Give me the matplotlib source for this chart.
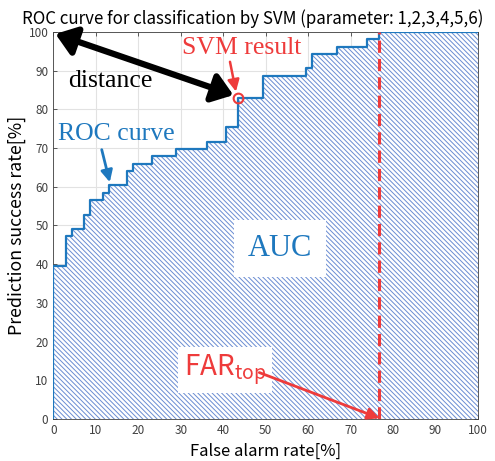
import matplotlib
matplotlib.use("Agg")
import matplotlib.pyplot as plt
from matplotlib.patches import FancyArrowPatch

# ---- data ----
far_steps = [0, 0, 2.9, 4.3, 7.2, 8.7, 11.6, 13.0, 17.4, 18.8, 23.2, 29.0,
             36.2, 40.6, 43.5, 49.3, 59.4, 60.9, 66.7, 73.9, 76.8, 100]
psr_steps = [0, 39.6, 47.2, 49.1, 52.8, 56.6, 58.5, 60.4, 64.2, 66.0, 67.9, 69.8,
             71.7, 75.5, 83.0, 88.7, 90.6, 94.3, 96.2, 98.1, 100, 100]
svm_point = (43.5, 83.0)
far_top = 76.8
x_ticks = list(range(0, 101, 10))
y_ticks = list(range(0, 101, 10))

title = "ROC curve for classification by SVM (parameter: 1,2,3,4,5,6)"
xlabel = "False alarm rate[%]"
ylabel = "Prediction success rate[%]"

BLUE = "#1e78be"
RED = "#ee3b3b"
HATCH = "#6a8cd2"
SANS = ["Noto Sans CJK JP", "DejaVu Sans"]
SERIF = ["Liberation Serif", "DejaVu Serif"]

plt.rcParams["hatch.linewidth"] = 0.7

fig = plt.figure(figsize=(4.95, 4.61), dpi=100)
ax = fig.add_axes([0.1077, 0.0911, 0.858, 0.8395])

ax.grid(True, color="#e2e2e2", lw=0.8, zorder=0)
ax.set_axisbelow(True)

ax.fill_between(far_steps, psr_steps, step="post", facecolor="white",
                edgecolor=HATCH, linewidth=0, hatch="\\" * 7, zorder=1)
ax.step(far_steps, psr_steps, where="post", color=BLUE, lw=1.6, zorder=3)

ax.axvline(far_top, color=RED, lw=2.2, ls=(0, (4, 2)), zorder=4)

ax.plot([svm_point[0]], [svm_point[1]], "o", mfc="none", mec=RED, mew=1.5,
        ms=7, zorder=6)

ax.set_xlim(0, 100)
ax.set_ylim(0, 100)
ax.set_xticks(x_ticks)
ax.set_yticks(y_ticks)
ax.tick_params(direction="in", top=True, right=True, length=3, width=0.6,
               labelsize=8.5, labelcolor="#404040", color="#404040")
for lab in ax.get_xticklabels() + ax.get_yticklabels():
    lab.set_family(SANS)
for sp in ax.spines.values():
    sp.set_color("#404040")
    sp.set_linewidth(0.6)

ax.set_title(title, fontsize=12.2, family=SANS, pad=6, x=0.47)
ax.set_xlabel(xlabel, fontsize=12, family=SANS, labelpad=4)
ax.set_ylabel(ylabel, fontsize=12.8, family=SANS, labelpad=2)

# distance arrow
arr = FancyArrowPatch((0.5, 99.5), (42.4, 83.7),
                      arrowstyle="<|-|>,head_length=0.55,head_width=0.4",
                      mutation_scale=22, lw=4.5, color="black",
                      shrinkA=0, shrinkB=0, zorder=7, clip_on=False)
ax.add_patch(arr)
ax.text(13.5, 87.3, "distance", fontsize=18.5, family=SERIF, color="black",
        ha="center", va="center", zorder=8)

# SVM result
ax.text(44.4, 95.8, "SVM result", fontsize=18.5, family=SERIF, color=RED,
        ha="center", va="center", zorder=8)
ax.annotate("", xy=(43.0, 84.6), xytext=(41.6, 92.3),
            arrowprops=dict(arrowstyle="-|>,head_length=0.5,head_width=0.25",
                            color=RED, lw=1.8, mutation_scale=14,
                            shrinkA=0, shrinkB=0), zorder=8)

# ROC curve label
ax.text(14.8, 73.6, "ROC curve", fontsize=18.5, family=SERIF, color=BLUE,
        ha="center", va="center", zorder=8)
ax.annotate("", xy=(13.3, 61.2), xytext=(11.4, 69.6),
            arrowprops=dict(arrowstyle="-|>,head_length=0.5,head_width=0.25",
                            color=BLUE, lw=2, mutation_scale=14,
                            shrinkA=0, shrinkB=0), zorder=8)

# AUC
ax.text(53.3, 44.1, "AUC", fontsize=22, family=SERIF, color=BLUE,
        ha="center", va="center", zorder=8,
        bbox=dict(boxstyle="square,pad=0.45", fc="white", ec="none"))

# FAR_top
ax.text(40.4, 12.7, r"FAR$_{\mathregular{top}}$", fontsize=20, family=SANS,
        color=RED, ha="center", va="center", zorder=8,
        bbox=dict(boxstyle="square,pad=0.2", fc="white", ec="none"))
ax.annotate("", xy=(far_top, 0.2), xytext=(48.5, 12.0),
            arrowprops=dict(arrowstyle="-|>,head_length=0.5,head_width=0.25",
                            color=RED, lw=2, mutation_scale=14,
                            shrinkA=0, shrinkB=0), zorder=8)

fig.savefig("out.png", dpi=100)
